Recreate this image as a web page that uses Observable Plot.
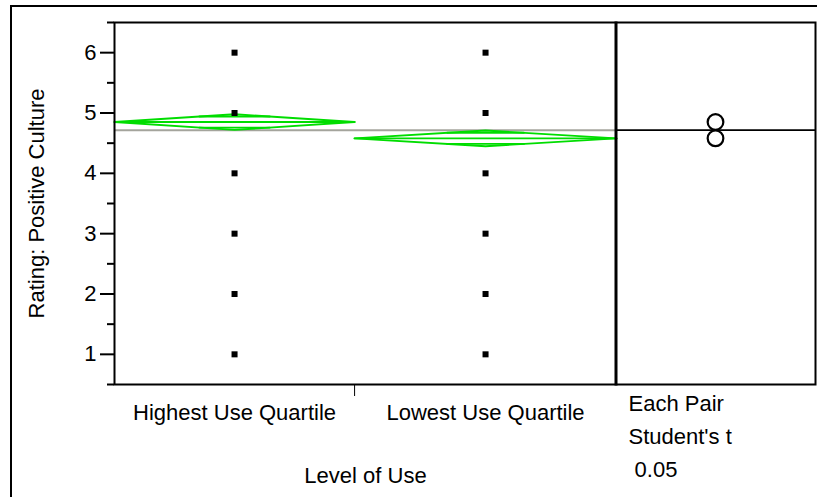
<!DOCTYPE html>
<html><head><meta charset="utf-8">
<script src="https://cdn.jsdelivr.net/npm/d3@7"></script>
<script src="https://cdn.jsdelivr.net/npm/@observablehq/plot@0.6"></script>
<style>
body{margin:0;background:#fff;}
#chart{position:relative;width:817px;height:497px;overflow:hidden;font-family:"Liberation Sans",Arial,sans-serif;}
#chart svg{position:absolute;left:0;top:0;background:transparent;}
#border{position:absolute;left:10px;top:5px;width:900px;height:600px;border-left:2px solid #000;border-top:2px solid #000;}
</style></head><body><div id="chart"><div id="border"></div></div>
<script>
// ---- data ----
const groups = ["Highest Use Quartile", "Lowest Use Quartile"];
const groupN = [55, 60];            // group sizes (set band widths)
const groupMean = [4.85, 4.58];
const groupCI = [0.13, 0.13];       // 95% half-width
const ratingLevels = [1, 2, 3, 4, 5, 6];
const grandMean = 4.715;
const yTicks = [1, 2, 3, 4, 5, 6];
const yMinorTicks = [0.5, 1.5, 2.5, 3.5, 4.5, 5.5, 6.5];
const yLabel = "Rating: Positive Culture";
const xLabel = "Level of Use";
const compareLabel = ["Each Pair", "Student's t", "\u00a00.05"];

// ---- layout ----
const W = 817, H = 497, MT = 22, MB = 113, ML = 114, MR_MAIN = 201;
const FS = 22;
const green = "#00dd00";

const starts = Array.from(d3.cumsum([0, ...groupN])); // [0, n1, n1+n2]
const lo = groups.map((g, i) => starts[i]);
const hi = groups.map((g, i) => starts[i + 1]);
const nTotal = d3.sum(groupN);
const mids = groups.map((g, i) => (lo[i] + hi[i]) / 2);

// diamond segments
const segs = [];
groups.forEach((g, i) => {
  const m = groupMean[i], c = groupCI[i], a = lo[i], b = hi[i], mid = mids[i];
  const poly = [[a, m], [mid, m + c], [b, m], [mid, m - c], [a, m]];
  poly.forEach(([x, y]) => segs.push({seg: g + "-d", x, y}));
  segs.push({seg: g + "-m", x: a, y: m}, {seg: g + "-m", x: b, y: m});
  const k = c / Math.SQRT2, hw = (b - a) / 2 * (1 - 1 / Math.SQRT2);
  segs.push({seg: g + "-u", x: mid - hw, y: m + k}, {seg: g + "-u", x: mid + hw, y: m + k});
  segs.push({seg: g + "-l", x: mid - hw, y: m - k}, {seg: g + "-l", x: mid + hw, y: m - k});
});

const points = [];
groups.forEach((g, i) => ratingLevels.forEach(v => points.push({x: mids[i], y: v})));

const main = Plot.plot({
  width: W, height: H,
  marginTop: MT, marginBottom: MB, marginLeft: ML, marginRight: MR_MAIN,
  style: {fontFamily: "Liberation Sans, Arial, sans-serif", fontSize: FS + "px", background: "transparent", color: "black"},
  x: {domain: [0, nTotal]},
  y: {domain: [0.5, 6.5]},
  marks: [
    Plot.ruleY([grandMean], {stroke: "#a4a49c", strokeWidth: 2}),
    Plot.line(segs, {x: "x", y: "y", z: "seg", stroke: green, strokeWidth: 1.9}),
    Plot.dot(points, {x: "x", y: "y", symbol: "square", fill: "black", r: 3.4}),
    Plot.frame({strokeWidth: 2}),
    Plot.axisY({ticks: yTicks, tickSize: 14, tickPadding: 4, strokeWidth: 2, fontSize: FS, tickFormat: d => String(d), label: null}),
    Plot.axisY({ticks: yMinorTicks, tickSize: 7, tickFormat: () => "", strokeWidth: 2, label: null}),
    Plot.text([yLabel], {frameAnchor: "left", textAnchor: "middle", rotate: -90, dx: -78, fontSize: FS}),
    Plot.axisX({ticks: [starts[1]], tickSize: 12, tickFormat: () => "", strokeWidth: 1, label: null}),
    Plot.text(groups, {x: (d, i) => mids[i], frameAnchor: "bottom", lineAnchor: "top", dy: 20, fontSize: FS}),
    Plot.text([xLabel], {frameAnchor: "bottom", lineAnchor: "top", dy: 83, fontSize: FS})
  ]
});

const plotH = H - MT - MB;
const panel = Plot.plot({
  width: W, height: H,
  marginTop: MT, marginBottom: MB, marginLeft: W - MR_MAIN - 1, marginRight: 2,
  style: {fontFamily: "Liberation Sans, Arial, sans-serif", fontSize: FS + "px", background: "transparent", color: "black"},
  x: {domain: [-1, 1], axis: null},
  y: {domain: [0.5, 6.5], axis: null},
  r: {type: "linear", domain: [0, 6], range: [0, plotH]},
  marks: [
    Plot.ruleY([grandMean], {stroke: "black", strokeWidth: 1.8}),
    Plot.dot(groupMean, {x: () => 0, y: d => d, r: (d, i) => groupCI[i], stroke: "black", strokeWidth: 2.2, fill: "none"}),
    Plot.frame({strokeWidth: 2}),
    Plot.text([compareLabel.join("\n")], {frameAnchor: "bottom-left", textAnchor: "start", lineAnchor: "top", dx: 13, dy: 3, lineHeight: 1.5, fontSize: FS})
  ]
});

const chart = document.getElementById("chart");
chart.appendChild(main);
chart.appendChild(panel);
</script>
</body></html>
